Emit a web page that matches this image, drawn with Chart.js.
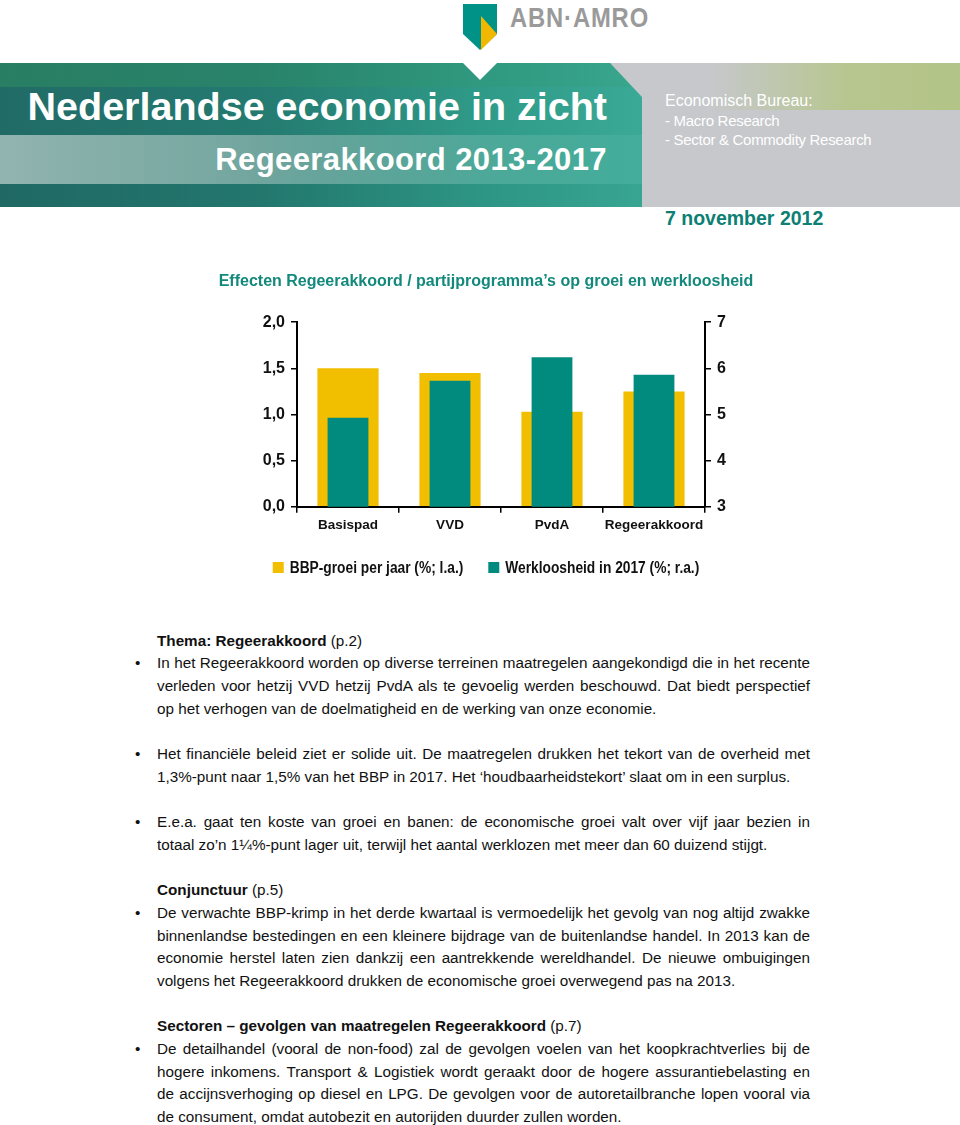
<!DOCTYPE html>
<html lang="nl">
<head>
<meta charset="utf-8">
<title>Nederlandse economie in zicht – Regeerakkoord 2013-2017</title>
<script src="https://cdn.jsdelivr.net/npm/chart.js@4.4.0/dist/chart.umd.min.js"></script>
<style>
  html, body { margin: 0; padding: 0; background: #fff; }
  body { width: 960px; height: 1125px; position: relative; overflow: hidden;
         font-family: 'Liberation Sans', Arial, Helvetica, sans-serif; color: #111; }
  .abs { position: absolute; }

  /* logo */
  .brand { left: 510px; top: 1px; font-weight: bold; font-size: 28px; letter-spacing: 1px; color: #9a9a9a;
           line-height: 34px; transform: scaleX(0.85); transform-origin: 0 0; white-space: nowrap; }

  /* banner */
  .grey { left: 600px; top: 63px; width: 360px; height: 144px; background: #c6c8cb; }
  .grey-band { left: 640px; top: 63px; width: 320px; height: 47px;
               background: linear-gradient(to right, rgba(182,198,140,0) 0%, rgba(182,198,140,0) 22%, #b7c68f 65%, #b3c487 100%); }
  .teal { left: 0; top: 63px; width: 642px; height: 144px; overflow: hidden;
          clip-path: polygon(0 0, 610px 0, 642px 34px, 642px 100%, 0 100%);
          background: linear-gradient(to right, #216b66 0%, #247a70 40%, #2f9a88 75%, #3aa996 100%); }
  .strip-top { left: 0; top: 0; width: 100%; height: 24px;
               background: linear-gradient(to right, rgba(50,150,95,0.45), rgba(50,150,95,0.15)); }
  .strip-light { left: 0; top: 72px; width: 100%; height: 49px;
                 background: linear-gradient(to right, rgba(215,225,222,0.62) 0%, rgba(200,215,210,0.5) 35%, rgba(255,255,255,0.12) 80%, rgba(255,255,255,0.05) 100%); }
  .strip-bottom { left: 0; top: 121px; width: 100%; height: 23px;
                  background: linear-gradient(to right, rgba(20,80,80,0.1), rgba(20,80,80,0.05)); }
  .notch { left: 463px; top: 63px; width: 34px; height: 17px; background: #fff;
           clip-path: polygon(0 0, 100% 0, 50% 100%); }
  .title1 { right: 353px; top: 86.5px; font-size: 39.5px; line-height: 39.5px; font-weight: bold; color: #fff; white-space: nowrap; }
  .title2 { right: 353px; top: 143.7px; font-size: 31px; line-height: 31px; letter-spacing: 0.4px; font-weight: bold; color: #fff; white-space: nowrap; }
  .bureau { left: 665px; top: 91px; font-size: 16px; line-height: 19.7px; color: #fff; white-space: nowrap; }
  .bureau .sub { font-size: 15px; letter-spacing: -0.3px; }
  .date { left: 665px; top: 206px; font-size: 19.5px; line-height: 24px; font-weight: bold; color: #0d7f74; }

  /* chart */
  .chartbox { left: 200px; top: 262px; width: 572px; height: 328px; }

  /* body text */
  .text { left: 157px; top: 629.6px; width: 653px; font-size: 15.25px; }
  .text .ln { height: 22.7px; line-height: 22.7px; white-space: nowrap; position: relative; }
  .text .j { text-align: justify; text-align-last: justify; white-space: normal; }
  .text .bul::before { content: '•'; position: absolute; left: -22px; top: 0; }
  .text b { font-weight: bold; }
</style>
</head>
<body>

<!-- logo -->
<svg class="abs" style="left:463px; top:4px" width="34" height="46" viewBox="0 0 34 46">
  <polygon points="0,0 34,0 34,30 17,46 0,30" fill="#009286"/>
  <polygon points="18,12 34,30 18,46" fill="#f2b800"/>
</svg>
<div class="abs brand">ABN·AMRO</div>

<!-- banner -->
<div class="abs grey"></div>
<div class="abs grey-band"></div>
<div class="abs teal">
  <div class="abs strip-top"></div>
  <div class="abs strip-light"></div>
  <div class="abs strip-bottom"></div>
</div>
<div class="abs notch"></div>
<div class="abs title1">Nederlandse economie in zicht</div>
<div class="abs title2">Regeerakkoord 2013-2017</div>
<div class="abs bureau">Economisch Bureau:<br><span class="sub">- Macro Research</span><br><span class="sub">- Sector &amp; Commodity Research</span></div>
<div class="abs date">7 november 2012</div>

<!-- chart -->
<div class="abs chartbox"><canvas id="chart"></canvas></div>

<!-- text -->
<div class="abs text">
  <div class="ln"><b>Thema: Regeerakkoord</b> (p.2)</div>
  <div class="ln j bul">In het Regeerakkoord worden op diverse terreinen maatregelen aangekondigd die in het recente</div>
  <div class="ln j">verleden voor hetzij VVD hetzij PvdA als te gevoelig werden beschouwd. Dat biedt perspectief</div>
  <div class="ln">op het verhogen van de doelmatigheid en de werking van onze economie.</div>
  <div class="ln"></div>
  <div class="ln j bul">Het financiële beleid ziet er solide uit. De maatregelen drukken het tekort van de overheid met</div>
  <div class="ln">1,3%-punt naar 1,5% van het BBP in 2017. Het ‘houdbaarheidstekort’ slaat om in een surplus.</div>
  <div class="ln"></div>
  <div class="ln j bul">E.e.a. gaat ten koste van groei en banen: de economische groei valt over vijf jaar bezien in</div>
  <div class="ln">totaal zo’n 1¼%-punt lager uit, terwijl het aantal werklozen met meer dan 60 duizend stijgt.</div>
  <div class="ln"></div>
  <div class="ln"><b>Conjunctuur</b> (p.5)</div>
  <div class="ln j bul">De verwachte BBP-krimp in het derde kwartaal is vermoedelijk het gevolg van nog altijd zwakke</div>
  <div class="ln j">binnenlandse bestedingen en een kleinere bijdrage van de buitenlandse handel. In 2013 kan de</div>
  <div class="ln j">economie herstel laten zien dankzij een aantrekkende wereldhandel. De nieuwe ombuigingen</div>
  <div class="ln">volgens het Regeerakkoord drukken de economische groei overwegend pas na 2013.</div>
  <div class="ln"></div>
  <div class="ln"><b>Sectoren – gevolgen van maatregelen Regeerakkoord</b> (p.7)</div>
  <div class="ln j bul">De detailhandel (vooral de non-food) zal de gevolgen voelen van het koopkrachtverlies bij de</div>
  <div class="ln j">hogere inkomens. Transport &amp; Logistiek wordt geraakt door de hogere assurantiebelasting en</div>
  <div class="ln j">de accijnsverhoging op diesel en LPG. De gevolgen voor de autoretailbranche lopen vooral via</div>
  <div class="ln">de consument, omdat autobezit en autorijden duurder zullen worden.</div>
</div>

<script>
// gegevens uit de grafiek
const categories = ['Basispad', 'VVD', 'PvdA', 'Regeerakkoord'];
const bbpGroei = [1.5, 1.45, 1.03, 1.25];          // linker as, %
const werkloosheid = [4.93, 5.73, 6.24, 5.86];     // rechter as, %
const leftAxis = { min: 0, max: 2, step: 0.5 };
const rightAxis = { min: 3, max: 7, step: 1 };

const YELLOW = '#f2be00';
const TEAL = '#008b7e';
const INK = '#111';
const FONT = "'Liberation Sans', Arial, sans-serif";

Chart.defaults.font.family = FONT;
Chart.defaults.color = INK;

const commaFmt = v => Number(v).toFixed(1).replace('.', ',');

// legenda in smalle (condensed) letter, getekend onder de grafiek
const narrowLegend = {
    id: 'narrowLegend',
    afterDraw(chart, args, opts) {
        const { ctx } = chart;
        const sx = opts.squeeze;
        const box = opts.box;
        ctx.save();
        ctx.font = `bold ${opts.size}px ${FONT}`;
        ctx.textBaseline = 'alphabetic';
        const items = chart.data.datasets.map(ds => ({
            text: ds.label,
            color: ds.backgroundColor,
            w: ctx.measureText(ds.label).width * sx
        }));
        const total = items.reduce((s, it) => s + box + opts.gap + it.w, 0) + opts.spacing * (items.length - 1);
        let x = opts.centerX - total / 2;
        const base = opts.baseline;
        items.forEach(it => {
            ctx.fillStyle = it.color;
            ctx.fillRect(x, base - box, box, box);
            x += box + opts.gap;
            ctx.save();
            ctx.translate(x, base);
            ctx.scale(sx, 1);
            ctx.fillStyle = INK;
            ctx.fillText(it.text, 0, 0);
            ctx.restore();
            x += it.w + opts.spacing;
        });
        ctx.restore();
    }
};

new Chart(document.getElementById('chart'), {
    type: 'bar',
    data: {
        labels: categories,
        datasets: [
            {
                label: 'BBP-groei per jaar (%; l.a.)',
                data: bbpGroei,
                backgroundColor: YELLOW,
                yAxisID: 'y',
                grouped: false,
                categoryPercentage: 1,
                barPercentage: 0.6,
                order: 2
            },
            {
                label: 'Werkloosheid in 2017 (%; r.a.)',
                data: werkloosheid,
                backgroundColor: TEAL,
                yAxisID: 'y1',
                grouped: false,
                categoryPercentage: 1,
                barPercentage: 0.4,
                order: 1
            }
        ]
    },
    plugins: [narrowLegend],
    options: {
        responsive: true,
        maintainAspectRatio: false,
        animation: false,
        layout: { padding: { left: 0, right: 0, top: 0, bottom: 53 } },
        plugins: {
            title: {
                display: true,
                text: 'Effecten Regeerakkoord / partijprogramma’s op groei en werkloosheid',
                color: '#13897c',
                font: { size: 16, weight: 'bold' },
                padding: { top: 10, bottom: 31 }
            },
            legend: { display: false },
            narrowLegend: { size: 16, squeeze: 0.86, box: 11, gap: 6, spacing: 25, centerX: 286, baseline: 311 },
            tooltip: { enabled: false }
        },
        scales: {
            x: {
                offset: true,
                grid: { offset: true, drawOnChartArea: false, color: '#000', lineWidth: 1.5, tickLength: 6 },
                border: { color: '#000', width: 2 },
                ticks: { color: INK, font: { size: 13.5, weight: 'bold' }, padding: 4, maxRotation: 0, minRotation: 0, autoSkip: false }
            },
            y: {
                position: 'left',
                min: leftAxis.min,
                max: leftAxis.max,
                beginAtZero: false,
                grid: { drawOnChartArea: false, color: '#000', lineWidth: 1.5, tickLength: 6 },
                border: { color: '#000', width: 2 },
                ticks: { stepSize: leftAxis.step, callback: commaFmt, color: INK, font: { size: 16, weight: 'bold' }, padding: 6 },
                afterFit: s => { s.width = 97; }
            },
            y1: {
                position: 'right',
                min: rightAxis.min,
                max: rightAxis.max,
                beginAtZero: false,
                grid: { drawOnChartArea: false, color: '#000', lineWidth: 1.5, tickLength: 6 },
                border: { color: '#000', width: 2 },
                ticks: { stepSize: rightAxis.step, color: INK, font: { size: 16, weight: 'bold' }, padding: 6 },
                afterFit: s => { s.width = 67; }
            }
        }
    }
});
</script>
</body>
</html>
